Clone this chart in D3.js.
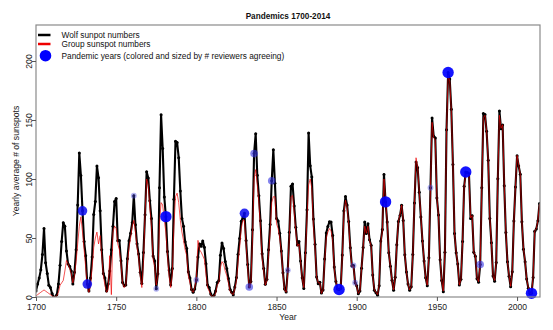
<!DOCTYPE html>
<html>
<head>
<meta charset="utf-8">
<script src="https://cdn.jsdelivr.net/npm/d3@7"></script>
<style>
  html, body { margin: 0; padding: 0; background: #fff; }
  svg { display: block; font-family: "Liberation Sans", Arial, sans-serif; }
</style>
</head>
<body>
<svg id="chart" width="553" height="330"></svg>
<script>
// ---------------- data ----------------
const startYear = 1700;
const wolf = [
  5, 11, 16, 23, 36, 58, 29, 20, 10, 8,
  3, 0, 0, 2, 11, 27, 47, 63, 60, 39,
  28, 26, 22, 11, 21, 40, 78, 122, 103, 73,
  47, 35, 11, 5, 16, 34, 70, 81, 111, 101,
  73, 40, 20, 16, 5, 11, 22, 40, 60, 80.9,
  83.4, 47.7, 47.8, 30.7, 12.2, 9.6, 10.2, 32.4, 47.6, 54,
  62.9, 85.9, 61.2, 45.1, 36.4, 20.9, 11.4, 37.8, 69.8, 106.1,
  100.8, 81.6, 66.5, 34.8, 30.6, 7, 19.8, 92.5, 154.4, 125.9,
  84.8, 68.1, 38.5, 22.8, 10.2, 24.1, 82.9, 132, 130.9, 118.1,
  89.9, 66.6, 60, 46.9, 41, 21.3, 16, 6.4, 4.1, 6.8,
  14.5, 34, 45, 43.1, 47.5, 42.2, 28.1, 10.1, 8.1, 2.5,
  0, 1.4, 5, 12.2, 13.9, 35.4, 45.8, 41, 30.1, 23.9,
  15.6, 6.6, 4, 1.8, 8.5, 16.6, 36.3, 49.6, 64.2, 67,
  70.9, 47.8, 27.5, 8.5, 13.2, 56.9, 121.5, 138.3, 103.2, 85.7,
  64.6, 36.7, 24.2, 10.7, 15, 40.1, 61.5, 98.5, 124.7, 96.3,
  66.6, 64.5, 54.1, 39, 20.6, 6.7, 4.3, 22.7, 54.8, 93.8,
  95.8, 77.2, 59.1, 44, 47, 30.5, 16.3, 7.3, 37.6, 74,
  139, 111.2, 101.6, 66.2, 44.7, 17, 11.3, 12.4, 3.4, 6,
  32.3, 54.3, 59.7, 63.7, 63.5, 52.2, 25.4, 13.1, 6.8, 6.3,
  7.1, 35.6, 73, 85.1, 78, 64, 41.8, 26.2, 26.7, 12.1,
  9.5, 2.7, 5, 24.4, 42, 63.5, 53.8, 62, 48.5, 43.9,
  18.6, 5.7, 3.6, 1.4, 9.6, 47.4, 57.1, 103.9, 80.6, 63.6,
  37.6, 26.1, 14.2, 5.8, 16.7, 44.3, 63.9, 69, 77.8, 64.9,
  35.7, 21.2, 11.1, 5.7, 8.7, 36.1, 79.7, 114.4, 109.6, 88.8,
  67.8, 47.5, 30.6, 16.3, 9.6, 33.2, 92.6, 151.6, 136.3, 134.7,
  83.9, 69.4, 31.5, 13.9, 4.4, 38, 141.7, 190.2, 184.8, 159,
  112.3, 53.9, 37.5, 27.9, 10.2, 15.1, 47, 93.8, 105.9, 105.5,
  104.5, 66.6, 68.9, 38, 34.5, 15.5, 12.6, 27.5, 92.5, 155.4,
  154.6, 140.4, 115.9, 66.6, 45.9, 17.9, 13.4, 29.2, 100.2, 157.6,
  142.6, 145.7, 94.3, 54.6, 29.9, 17.5, 8.6, 21.5, 64.3, 93.3,
  119.6, 111, 104, 63.7, 40.4, 29.8, 15.2, 7.5, 2.9, 3.1,
  16.5, 55.7, 57.6, 64.7, 79.3
];
const group = [
  1, 2, 3, 4, 5, 6, 5, 4, 3, 2,
  1, 0, 0, 1, 4, 10, 12, 14, 22, 31,
  28, 24, 20, 12, 18, 30, 45, 60, 68, 55,
  40, 25, 8, 4, 10, 25, 42, 50, 55, 45,
  52, 35, 18, 10, 4, 6, 35, 2, 55, 60,
  58, 45, 40, 28, 12, 8, 10, 28, 42, 50,
  60, 65, 55, 42, 34, 18, 8, 30, 70, 100,
  95, 75, 60, 32, 26, 10, 18, 62, 80, 78,
  65, 55, 35, 18, 8, 20, 60, 85, 88, 80,
  65, 55, 48, 40, 35, 18, 12, 6, 4, 8,
  15, 48, 40, 38, 35, 32, 20, 8, 5, 2,
  0, 1, 3, 10, 12, 25, 30, 28, 22, 18,
  12, 5, 3, 2, 7, 14, 30, 42, 58, 65,
  65, 45, 25, 8, 12, 50, 100, 108, 95, 80,
  58, 33, 22, 10, 14, 35, 55, 80, 85, 85,
  62, 58, 50, 38, 20, 6, 4, 20, 52, 85,
  86, 72, 56, 43, 45, 30, 16, 8, 35, 68,
  95, 100, 92, 60, 42, 17, 12, 12, 3, 6,
  30, 50, 55, 58, 56, 48, 24, 13, 7, 6,
  7, 34, 70, 82, 76, 62, 40, 26, 26, 12,
  9, 3, 5, 24, 42, 60, 54, 60, 48, 43,
  18, 6, 4, 2, 10, 46, 56, 100, 82, 64,
  37, 26, 14, 6, 17, 44, 64, 70, 78, 65,
  36, 21, 11, 6, 9, 36, 80, 118, 110, 89,
  68, 48, 31, 16, 10, 34, 92, 148, 135, 133,
  84, 69, 32, 14, 5, 38, 140, 188, 183, 158,
  112, 54, 38, 28, 10, 15, 47, 94, 104, 103,
  104, 67, 69, 38, 35, 16, 13, 28, 93, 152,
  154, 141, 116, 67, 46, 18, 14, 30, 100, 154,
  143, 146, 95, 55, 30, 18, 9, 22, 64, 94,
  120, 112, 104, 64, 41, 30, 15, 8, 3, 3,
  17, 56, 58, 65, 79
];
const pandemicYears = [1729, 1732, 1761, 1775, 1781, 1800, 1830, 1833, 1836, 1847, 1857, 1889, 1898, 1899, 1918, 1946, 1957, 1968, 1977, 2009];
const reviewers    = [3,    3,    1,    1,    4,    1,    3,    2,    2,    2,    1,    4,    1,    1,    4,    1,    4,    4,    2,    4];
const xTicks = [1700, 1750, 1800, 1850, 1900, 1950, 2000];
const yTicks = [0, 50, 100, 150, 200];
const titleText = "Pandemics 1700-2014";
const legendLabels = ["Wolf sunpot numbers", "Group sunspot numbers", "Pandemic years (colored and sized by # reviewers agreeing)"];

// ---------------- layout ----------------
const svg = d3.select("#chart");
const L = 36, R = 540, T = 25, B = 297;
const x = d3.scaleLinear().domain([1700, 2014.3]).range([L, R]);
const y = d3.scaleLinear().domain([0, 230.5]).range([B, T]);
const rScale = d3.scaleOrdinal().domain([1, 2, 3, 4]).range([2.9, 3.8, 4.8, 5.7]);
const cScale = d3.scaleOrdinal().domain([1, 2, 3, 4])
  .range(["rgba(70,70,220,0.42)", "rgba(50,50,225,0.6)", "rgba(10,10,240,0.85)", "rgba(0,0,255,0.92)"]);

const wolfData = wolf.map((v, i) => ({year: startYear + i, v}));
const groupData = group.map((v, i) => ({year: startYear + i, v}));

// clip
svg.append("clipPath").attr("id", "clip").append("rect")
  .attr("x", L).attr("y", T).attr("width", R - L).attr("height", B - T);

const plot = svg.append("g").attr("clip-path", "url(#clip)");
const line = d3.line().x(d => x(d.year)).y(d => y(d.v));

plot.append("path").datum(wolfData).attr("d", line)
  .attr("fill", "none").attr("stroke", "#000").attr("stroke-width", 2.1)
  .attr("stroke-linejoin", "round");
plot.selectAll("circle.wp").data(wolfData).enter().append("circle")
  .attr("class", "wp").attr("cx", d => x(d.year)).attr("cy", d => y(d.v))
  .attr("r", 1.5).attr("fill", "#000");
plot.append("path").datum(groupData).attr("d", line)
  .attr("fill", "none").attr("stroke", "#ee0000").attr("stroke-width", 1)
  .attr("stroke-opacity", 0.68).attr("stroke-linejoin", "round");

const pData = pandemicYears.map((yr, i) => ({year: yr, v: wolf[yr - startYear], n: reviewers[i]}));
svg.selectAll("circle.pd").data(pData).enter().append("circle")
  .attr("class", "pd").attr("cx", d => x(d.year)).attr("cy", d => y(d.v))
  .attr("r", d => rScale(d.n)).attr("fill", d => cScale(d.n));

// box
svg.append("rect").attr("x", L).attr("y", T).attr("width", R - L).attr("height", B - T)
  .attr("fill", "none").attr("stroke", "#8a8a8a").attr("stroke-width", 1.2);

// axes
const xAxis = d3.axisBottom(x).tickValues(xTicks).tickSize(4).tickPadding(3).tickFormat(d3.format("d"));
const gx = svg.append("g").attr("transform", `translate(0,${B})`).call(xAxis);
gx.select(".domain").remove();
gx.selectAll("line").attr("stroke", "#555");
gx.selectAll("text").attr("font-size", 8.6).attr("fill", "#222")
  .attr("font-family", "Liberation Sans, Arial, sans-serif");

const yAxis = d3.axisLeft(y).tickValues(yTicks).tickSize(4).tickFormat(d3.format("d"));
const gy = svg.append("g").attr("transform", `translate(${L},0)`).call(yAxis);
gy.select(".domain").remove();
gy.selectAll("line").attr("stroke", "#555");
gy.selectAll("text").attr("font-size", 8.6).attr("fill", "#222")
  .attr("font-family", "Liberation Sans, Arial, sans-serif")
  .attr("x", null).attr("dy", null)
  .attr("text-anchor", "middle")
  .attr("transform", "translate(-4.5,0) rotate(-90)");

// titles
svg.append("text").attr("x", (L + R) / 2).attr("y", 18.5).attr("text-anchor", "middle")
  .attr("font-size", 8.2).attr("font-weight", "bold").attr("fill", "#111").text(titleText);
svg.append("text").attr("x", (L + R) / 2).attr("y", 320).attr("text-anchor", "middle")
  .attr("font-size", 8.6).attr("fill", "#222").text("Year");
svg.append("text").attr("transform", `translate(19,${(T + B) / 2}) rotate(-90)`)
  .attr("text-anchor", "middle").attr("font-size", 8.6).attr("fill", "#222")
  .text("Yearly average # of sunspots");

// legend
const lg = svg.append("g");
lg.append("line").attr("x1", 38).attr("x2", 50.5).attr("y1", 35).attr("y2", 35)
  .attr("stroke", "#000").attr("stroke-width", 2.5);
lg.append("line").attr("x1", 38).attr("x2", 50.5).attr("y1", 44).attr("y2", 44)
  .attr("stroke", "#ee0000").attr("stroke-width", 2.5);
lg.append("circle").attr("cx", 45.5).attr("cy", 55.7).attr("r", 5.8).attr("fill", "#0000ff");
const ly = [38, 47.2, 58.6];
legendLabels.forEach((t, i) => {
  lg.append("text").attr("x", 61.5).attr("y", ly[i]).attr("font-size", 8.3)
    .attr("fill", "#111").text(t);
});
</script>
</body>
</html>
